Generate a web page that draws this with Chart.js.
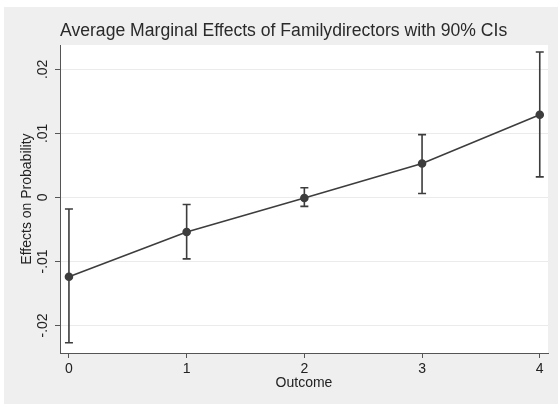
<!DOCTYPE html>
<html>
<head>
<meta charset="utf-8">
<script src="https://cdn.jsdelivr.net/npm/chart.js@4/dist/chart.umd.min.js"></script>
<style>
  html, body { margin: 0; padding: 0; background: #ffffff; }
  #wrap { width: 558px; height: 404px; }
</style>
</head>
<body>
<div id="wrap"><canvas id="c" width="558" height="404"></canvas></div>
<script>
// Outcome categories and average marginal effects with 90% confidence bounds
const outcomes = [0, 1, 2, 3, 4];
const effects  = [-0.0124, -0.0054, -0.0001, 0.0053, 0.0129];
const ciLower  = [-0.0227, -0.0096, -0.0014, 0.0006, 0.0032];
const ciUpper  = [-0.0018, -0.0011, 0.0015, 0.0098, 0.0227];
const yTicks   = [-0.02, -0.01, 0, 0.01, 0.02];

const ink = '#3d3d3d';
const FONT = 'Liberation Sans, Arial, sans-serif';

function fmtTick(v) {
  if (Math.abs(v) < 1e-9) return '0';
  return v.toFixed(2).replace('0.', '.');
}

// Stata-like backdrop: grey frame with a white plot region
const backdrop = {
  id: 'backdrop',
  beforeDraw(chart) {
    const { ctx, chartArea: a } = chart;
    ctx.save();
    ctx.fillStyle = '#ffffff';
    ctx.fillRect(0, 0, chart.width, chart.height);
    ctx.fillStyle = '#efefef';
    ctx.fillRect(4, 7, chart.width - 4, chart.height - 7);
    ctx.fillStyle = '#ffffff';
    ctx.fillRect(a.left, a.top, a.right - a.left, a.bottom - a.top);
    ctx.restore();
  }
};

// Capped vertical confidence-interval bars
const errorBars = {
  id: 'errorBars',
  beforeDatasetsDraw(chart) {
    const { ctx, scales: { x, y } } = chart;
    ctx.save();
    ctx.strokeStyle = ink;
    ctx.lineWidth = 1.6;
    const cap = 4;
    outcomes.forEach((o, i) => {
      const px = x.getPixelForValue(o);
      const lo = y.getPixelForValue(ciLower[i]);
      const hi = y.getPixelForValue(ciUpper[i]);
      ctx.beginPath();
      ctx.moveTo(px, lo); ctx.lineTo(px, hi);
      ctx.moveTo(px - cap, lo); ctx.lineTo(px + cap, lo);
      ctx.moveTo(px - cap, hi); ctx.lineTo(px + cap, hi);
      ctx.stroke();
    });
    ctx.restore();
  }
};

new Chart(document.getElementById('c'), {
  type: 'line',
  data: {
    datasets: [{
      data: outcomes.map((o, i) => ({ x: o, y: effects[i] })),
      borderColor: ink,
      borderWidth: 1.6,
      backgroundColor: ink,
      pointBackgroundColor: ink,
      pointBorderColor: ink,
      pointRadius: 3.5,
      tension: 0,
      fill: false
    }]
  },
  options: {
    responsive: false,
    animation: false,
    devicePixelRatio: 1,
    layout: { padding: { left: 0, right: 10, top: 0, bottom: 0 } },
    plugins: {
      legend: { display: false },
      tooltip: { enabled: false },
      title: {
        display: true,
        text: 'Average Marginal Effects of Familydirectors with 90% CIs',
        align: 'start',
        fullSize: false,
        color: '#2a2a2a',
        font: { family: FONT, size: 17.6, weight: 'normal' },
        padding: { top: 20.7, bottom: 3.2 }
      }
    },
    scales: {
      x: {
        type: 'linear',
        min: -0.076,
        max: 4.07,
        afterFit(s) { s.height = 51; },
        afterBuildTicks(s) { s.ticks = outcomes.map(v => ({ value: v })); },
        ticks: {
          color: '#222',
          font: { family: FONT, size: 14 },
          padding: 3,
          maxRotation: 0,
          callback: v => String(v)
        },
        grid: {
          drawOnChartArea: false,
          drawTicks: true,
          tickLength: 5,
          tickColor: '#555',
          tickWidth: 1
        },
        border: { display: true, color: '#555', width: 1 },
        title: {
          display: true,
          text: 'Outcome',
          color: '#222',
          font: { family: FONT, size: 14 },
          padding: { top: 0, bottom: 12.6 }
        }
      },
      y: {
        type: 'linear',
        min: -0.0243,
        max: 0.0238,
        afterFit(s) { s.width = 60; },
        afterBuildTicks(s) { s.ticks = yTicks.map(v => ({ value: v })); },
        ticks: {
          color: '#222',
          font: { family: FONT, size: 14 },
          minRotation: 90,
          maxRotation: 90,
          crossAlign: 'center',
          padding: 0,
          callback: v => fmtTick(v)
        },
        grid: {
          color: '#ebebeb',
          lineWidth: 1,
          drawTicks: true,
          tickLength: 5,
          tickColor: '#555',
          tickWidth: 1
        },
        border: { display: true, color: '#555', width: 1 },
        title: {
          display: true,
          text: 'Effects on Probability',
          color: '#222',
          font: { family: FONT, size: 14 },
          padding: { top: 19.2, bottom: 0 }
        }
      }
    }
  },
  plugins: [backdrop, errorBars]
});
</script>
</body>
</html>
